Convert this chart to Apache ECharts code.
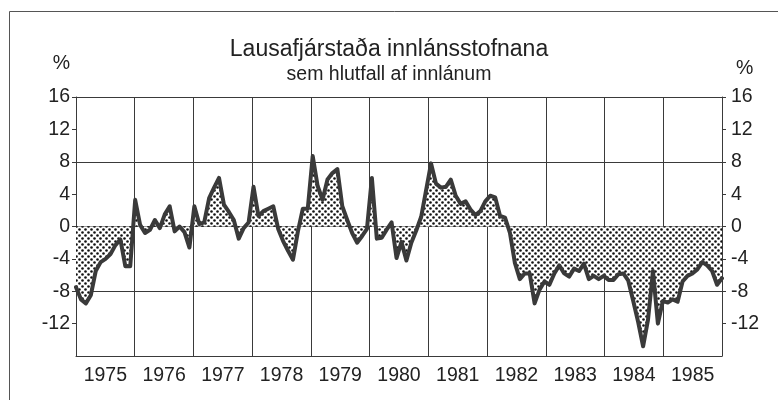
<!DOCTYPE html>
<html>
<head>
<meta charset="utf-8">
<script src="https://cdn.jsdelivr.net/npm/echarts@6/dist/echarts.min.js"></script>
<style>html,body{margin:0;padding:0;background:#fff}#c{width:778px;height:400px}</style>
</head>
<body>
<div id="c"></div>
<script>
// Monthly values, Jan 1975 – Dec 1985 (%)
var years = ['1975','1976','1977','1978','1979','1980','1981','1982','1983','1984','1985'];
var v1975 = [-7.5, -9.0, -9.5, -8.5, -5.5, -4.4, -4.0, -3.4, -2.3, -1.6, -4.9, -4.9];
var v1976 = [3.3, 0.2, -0.8, -0.4, 0.8, -0.2, 1.5, 2.5, -0.6, 0.0, -0.7, -2.6];
var v1977 = [2.5, 0.3, 0.5, 3.5, 4.8, 6.0, 2.7, 1.8, 0.8, -1.5, -0.2, 0.5];
var v1978 = [4.9, 1.3, 1.9, 2.2, 2.5, -0.3, -1.8, -3.0, -4.1, -0.6, 2.2, 2.2];
var v1979 = [8.7, 5.0, 3.3, 5.8, 6.6, 7.1, 2.5, 0.8, -0.8, -2.0, -1.2, -0.3];
var v1980 = [6.0, -1.5, -1.4, -0.4, 0.5, -3.9, -1.9, -4.2, -2.0, -0.5, 1.2, 4.5];
var v1981 = [7.8, 5.3, 4.8, 4.9, 5.8, 3.8, 2.8, 3.1, 2.1, 1.4, 1.9, 3.1];
var v1982 = [3.8, 3.6, 1.3, 1.1, -0.8, -4.5, -6.5, -5.8, -5.8, -9.5, -7.8, -6.8];
var v1983 = [-7.2, -5.8, -4.8, -5.8, -6.2, -5.2, -5.5, -4.6, -6.5, -6.1, -6.5, -6.1];
var v1984 = [-6.6, -6.6, -5.9, -5.8, -6.7, -9.2, -11.8, -14.8, -11.5, -5.5, -12.0, -9.2];
var v1985 = [-9.4, -9.0, -9.3, -6.8, -6.1, -5.8, -5.3, -4.4, -4.8, -5.5, -7.2, -6.4];
var yTicks = [-16, -12, -8, -4, 0, 4, 8, 12, 16];

var values = [].concat(v1975, v1976, v1977, v1978, v1979, v1980, v1981, v1982, v1983, v1984, v1985);
var startYear = +years[0];
var span = years.length;
var data = values.map(function (v, i) {
  return [startYear + i * span / (values.length - 1), v];
});

// dotted fill pattern
var pat = document.createElement('canvas');
pat.width = 6; pat.height = 6;
var g = pat.getContext('2d');
g.fillStyle = '#fff'; g.fillRect(0, 0, 6, 6);
g.fillStyle = '#111';
[[1.5, 1.5], [4.5, 4.5]].forEach(function (p) {
  g.beginPath(); g.arc(p[0], p[1], 1.3, 0, Math.PI * 2); g.fill();
});

var FONT = '"Liberation Sans", Arial, Helvetica, sans-serif';
var TXT = '#222';
var GRIDC = '#3a3a3a';
var LBL = 19.5;

var yCommon = {
  type: 'value', min: yTicks[0], max: yTicks[yTicks.length - 1], interval: 4,
  axisLine: { show: true, lineStyle: { color: GRIDC, width: 1 } },
  axisTick: { show: true, length: 4, lineStyle: { color: GRIDC } },
  name: '%', nameLocation: 'end', nameGap: 23,
  axisLabel: { fontFamily: FONT, fontSize: LBL, color: TXT, showMinLabel: false }
};

var chart = echarts.init(document.getElementById('c'), null, { renderer: 'canvas' });
chart.setOption({
  animation: false,
  backgroundColor: '#fff',
  title: {
    text: 'Lausafjárstaða innlánsstofnana',
    subtext: 'sem hlutfall af innlánum',
    left: 'center', top: 33, itemGap: 4,
    textStyle: { fontFamily: FONT, fontSize: 23, fontWeight: 'normal', color: TXT },
    subtextStyle: { fontFamily: FONT, fontSize: 19.5, color: TXT }
  },
  grid: { left: 76, right: 56, top: 97, bottom: 44, containLabel: false },
  xAxis: [
    {
      type: 'value', min: startYear, max: startYear + span, interval: 1,
      axisLine: { show: true, onZero: false, lineStyle: { color: GRIDC } },
      axisTick: { show: false }, axisLabel: { show: false },
      splitLine: { show: true, lineStyle: { color: GRIDC, width: 1 } }
    },
    {
      type: 'category', data: years, boundaryGap: true, position: 'bottom',
      axisLine: { show: false }, axisTick: { show: false },
      axisLabel: { fontFamily: FONT, fontSize: LBL, color: TXT, margin: 10 },
      splitLine: { show: false }
    }
  ],
  yAxis: [
    Object.assign({}, yCommon, {
      position: 'left',
      axisLabel: Object.assign({}, yCommon.axisLabel, { margin: 6 }),
      nameTextStyle: { fontFamily: FONT, fontSize: LBL, color: TXT, align: 'right', padding: [0, 6, 0, 0] },
      splitLine: { show: true, lineStyle: { color: [GRIDC, 'rgba(0,0,0,0)'], width: 1 } }
    }),
    Object.assign({}, yCommon, {
      position: 'right',
      nameGap: 18,
      axisLabel: Object.assign({}, yCommon.axisLabel, { margin: 9 }),
      nameTextStyle: { fontFamily: FONT, fontSize: LBL, color: TXT, align: 'left', padding: [0, 0, 0, 14] },
      splitLine: { show: false }
    })
  ],
  graphic: [{
    type: 'rect', shape: { x: 9.5, y: 11.5, width: 800, height: 420 },
    style: { fill: 'none', stroke: '#555', lineWidth: 1 }, silent: true, z: -1
  }],
  series: [{
    type: 'line', xAxisIndex: 0, yAxisIndex: 0,
    data: data, showSymbol: false, symbol: 'none',
    lineStyle: { color: '#3a3a3a', width: 4, join: 'round', cap: 'round' },
    areaStyle: { color: { image: pat, repeat: 'repeat' }, opacity: 1, origin: 0 },
    z: 3
  }]
});
</script>
</body>
</html>
